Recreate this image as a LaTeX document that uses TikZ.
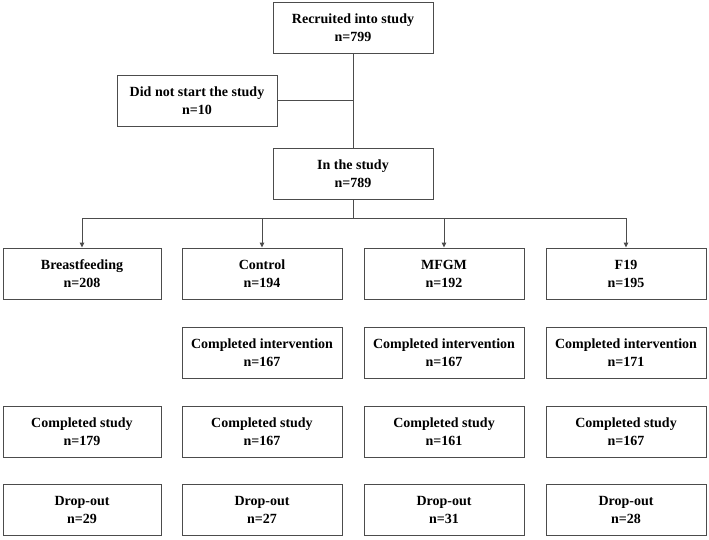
\documentclass[tikz,border=0pt]{standalone}
\usepackage{fontspec}
\setmainfont{Liberation Serif}
\usetikzlibrary{arrows.meta}
\tikzset{
  box/.style={draw=black!70, line width=0.9pt, minimum width=160pt, minimum height=51pt,
    inner sep=1pt, align=center, font=\fontsize{14pt}{18pt}\selectfont\bfseries},
  conn/.style={draw=black!70, line width=0.9pt},
  arr/.style={conn, -{Triangle[length=5pt,width=4.5pt]}}
}
\begin{document}
\begin{tikzpicture}[x=1pt,y=-1pt]
\useasboundingbox (0,0) rectangle (709,539);
\node[box] (rec) at (353,27.5) {Recruited into study\\n=799};
\node[box] (dns) at (197,100.5) {Did not start the study\\n=10};
\node[box] (ins) at (353,173.5) {In the study\\n=789};
% row 1
\node[box, minimum width=158pt] (bf) at (82,273.5) {Breastfeeding\\n=208};
\node[box] (ct) at (262,273.5) {Control\\n=194};
\node[box] (mf) at (444,273.5) {MFGM\\n=192};
\node[box] (f19) at (626,273.5) {F19\\n=195};
% row 2
\node[box] (ctci) at (262,353) {Completed intervention\\n=167};
\node[box] (mfci) at (444,353) {Completed intervention\\n=167};
\node[box] (f19ci) at (626,353) {Completed intervention\\n=171};
% row 3
\node[box, minimum width=158pt] (bfcs) at (82,431.5) {Completed study\\n=179};
\node[box] (ctcs) at (262,431.5) {Completed study\\n=167};
\node[box] (mfcs) at (444,431.5) {Completed study\\n=161};
\node[box] (f19cs) at (626,431.5) {Completed study\\n=167};
% row 4
\node[box, minimum width=158pt] (bfdo) at (82,510) {Drop-out\\n=29};
\node[box] (ctdo) at (262,510) {Drop-out\\n=27};
\node[box] (mfdo) at (444,510) {Drop-out\\n=31};
\node[box] (f19do) at (626,510) {Drop-out\\n=28};
% connectors
\draw[conn] (rec.south) -- (ins.north);
\draw[conn] (dns.east) -- (dns.east -| rec.south);
\coordinate (split) at (353,218);
\draw[conn] (ins.south) -- (split);
\draw[arr] (split) -| (bf.north);
\draw[arr] (split) -| (ct.north);
\draw[arr] (split) -| (mf.north);
\draw[arr] (split) -| (f19.north);
\end{tikzpicture}
\end{document}
